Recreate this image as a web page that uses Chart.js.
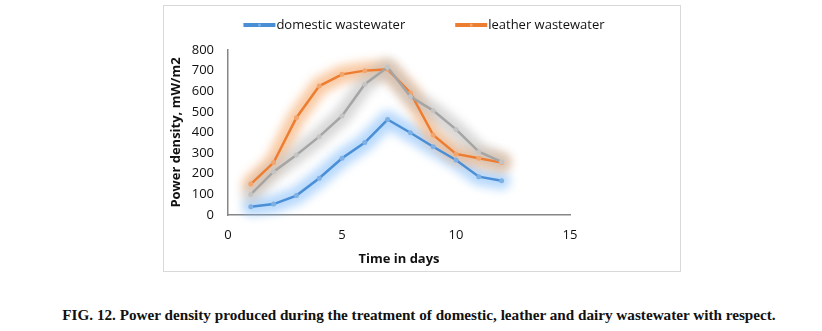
<!DOCTYPE html>
<html>
<head>
<meta charset="utf-8">
<script src="https://cdn.jsdelivr.net/npm/chart.js@4"></script>
<style>
  body { margin: 0; background: #fff; width: 822px; height: 331px; position: relative; overflow: hidden; }
  #box { position: absolute; left: 163px; top: 5px; width: 516px; height: 265px; border: 1px solid #d9d9d9; }
  #caption { position: absolute; left: 0; width: 838px; top: 306px; text-align: center;
    font: bold 15.2px "Liberation Serif", "Times New Roman", serif; color: #111; }
</style>
</head>
<body>
<div id="box"><canvas id="c" width="516" height="265"></canvas></div>
<div id="caption">FIG. 12. Power density produced during the treatment of domestic, leather and dairy wastewater with respect.</div>
<script>
const days = [1, 2, 3, 4, 5, 6, 7, 8, 9, 10, 11, 12]
const domestic = [40, 53, 94, 178, 275, 351, 463, 399, 331, 267, 186, 166]
const leather = [150, 254, 472, 625, 682, 700, 706, 593, 388, 296, 275, 254]
const dairy = [100, 210, 291, 380, 480, 634, 716, 574, 506, 415, 307, 258]
const xTicks = [0, 5, 10, 15]
const legendSeries = [0, 1] // dairy is left out of the key

const pts = vals => days.map((d, i) => ({ x: d, y: vals[i] }))

const font = { family: '"Open Sans", sans-serif', size: 13 }

// soft halo under every line, painted before any of the lines
const glow = {
  id: 'glow',
  beforeDatasetsDraw(chart) {
    const ctx = chart.ctx
    chart.data.datasets.forEach((ds, i) => {
      const meta = chart.getDatasetMeta(i)
      ctx.save()
      ctx.filter = 'blur(5px)'
      ctx.strokeStyle = ds.glowColor
      ctx.lineWidth = 18
      ctx.lineJoin = 'round'
      ctx.lineCap = 'round'
      ctx.beginPath()
      meta.data.forEach((p, j) => j ? ctx.lineTo(p.x, p.y) : ctx.moveTo(p.x, p.y))
      ctx.stroke()
      ctx.restore()
    })
  }
}

// key row: line swatch then label right next to it
const keyRow = {
  id: 'keyRow',
  afterDraw(chart) {
    const ctx = chart.ctx
    const sw = 32, gap = 1, between = 50, y = 19
    ctx.save()
    ctx.font = `${font.size}px ${font.family}`
    const widths = legendSeries.map(i => ctx.measureText(chart.data.datasets[i].label).width)
    const total = widths.reduce((a, w) => a + sw + gap + w, 0) + between * (legendSeries.length - 1)
    let x = 260 - total / 2
    legendSeries.forEach((i, k) => {
      const ds = chart.data.datasets[i]
      ctx.strokeStyle = ds.borderColor
      ctx.lineWidth = 4
      ctx.beginPath()
      ctx.moveTo(x, y)
      ctx.lineTo(x + sw, y)
      ctx.stroke()
      ctx.fillStyle = ds.backgroundColor
      ctx.beginPath()
      ctx.arc(x + sw / 2, y, 1.5, 0, Math.PI * 2)
      ctx.fill()
      ctx.fillStyle = '#111'
      ctx.textBaseline = 'middle'
      ctx.fillText(ds.label, x + sw + gap, y)
      x += sw + gap + widths[k] + between
    })
    ctx.restore()
  }
}

new Chart(document.getElementById('c'), {
  type: 'line',
  data: {
    datasets: [{
      label: 'domestic wastewater',
      data: pts(domestic),
      borderColor: '#4a8fd6',
      backgroundColor: '#7fb0e3',
      glowColor: 'rgba(125, 185, 250, 0.55)',
      order: 2
    }, {
      label: 'leather wastewater',
      data: pts(leather),
      borderColor: '#ed7d31',
      backgroundColor: '#f3a56e',
      glowColor: 'rgba(247, 180, 125, 0.7)',
      order: 1
    }, {
      label: 'dairy wastewater',
      data: pts(dairy),
      borderColor: '#a5a5a5',
      backgroundColor: '#c4c4c4',
      glowColor: 'rgba(190, 190, 190, 0.6)',
      order: 0
    }]
  },
  options: {
    responsive: false,
    animation: false,
    layout: { padding: { right: 110, top: 44 } },
    elements: {
      line: { borderWidth: 2.5, tension: 0 },
      point: { radius: 2.5, borderWidth: 0 }
    },
    scales: {
      x: {
        type: 'linear',
        min: 0,
        max: 15,
        afterBuildTicks: s => { s.ticks = xTicks.map(v => ({ value: v })) },
        grid: { display: false, drawTicks: false },
        border: { color: '#868686', width: 1.5 },
        ticks: { color: '#111', font, padding: 12 },
        title: { display: true, text: 'Time in days', color: '#111', font: { ...font, weight: 'bold' }, padding: { top: 3 } },
        afterFit: s => { s.height = 56 }
      },
      y: {
        min: 0,
        max: 800,
        ticks: { stepSize: 100, color: '#111', font, padding: 14 },
        grid: { display: false, drawTicks: false },
        border: { color: '#868686', width: 1.5 },
        title: { display: true, text: 'Power density, mW/m2', color: '#111', font: { ...font, weight: 'bold' }, padding: { bottom: 4 } },
        afterFit: s => { s.width = 64 }
      }
    },
    plugins: {
      legend: { display: false },
      tooltip: { enabled: false }
    }
  },
  plugins: [glow, keyRow]
})
</script>
</body>
</html>
